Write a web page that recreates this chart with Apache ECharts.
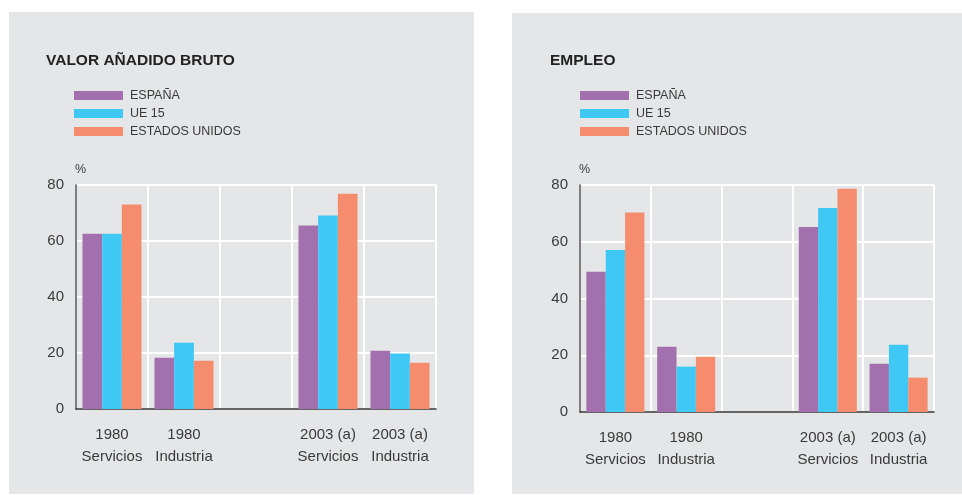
<!DOCTYPE html>
<html>
<head>
<meta charset="utf-8">
<script src="https://cdn.jsdelivr.net/npm/echarts@6/dist/echarts.min.js"></script>
<style>
html,body{margin:0;padding:0;background:#ffffff;}
#chart{width:962px;height:495px;}
</style>
</head>
<body>
<div id="chart"></div>
<script>
const categories = ['1980\nServicios', '1980\nIndustria', '', '2003 (a)\nServicios', '2003 (a)\nIndustria'];
const seriesNames = ['ESPAÑA', 'UE 15', 'ESTADOS UNIDOS'];
const yTicks = [0, 20, 40, 60, 80];

// VALOR AÑADIDO BRUTO
const vabEspana = [62.6, 18.3, null, 65.5, 20.8];
const vabUE15 = [62.6, 23.7, null, 69.1, 19.8];
const vabEEUU = [73.0, 17.2, null, 76.9, 16.5];

// EMPLEO
const empEspana = [49.4, 23.0, null, 65.2, 17.0];
const empUE15 = [57.1, 16.0, null, 71.9, 23.7];
const empEEUU = [70.3, 19.5, null, 78.7, 12.1];

const colors = ['#a270ad', '#40c8f4', '#f58c6e'];
const FONT = 'Liberation Sans';
const textColor = '#3a3a3a';

const chart = echarts.init(document.getElementById('chart'), null, {renderer: 'canvas'});

function xAxisCfg(gi) {
  return {
    type: 'category', gridIndex: gi, data: categories,
    axisLine: {show: true, lineStyle: {color: '#333', width: 1.5}},
    axisTick: {show: false},
    splitLine: {show: true, lineStyle: {color: '#ffffff', width: 2}},
    axisLabel: {color: textColor, fontFamily: FONT, fontSize: 15, lineHeight: 22, margin: 15, interval: 0}
  };
}
function yAxisCfg(gi) {
  return {
    type: 'value', gridIndex: gi, min: yTicks[0], max: yTicks[yTicks.length - 1], interval: 20,
    axisLine: {show: true, lineStyle: {color: '#555', width: 1.5}},
    axisTick: {show: false},
    splitLine: {show: true, lineStyle: {color: '#ffffff', width: 2}},
    axisLabel: {color: textColor, fontFamily: FONT, fontSize: 15, margin: 12}
  };
}
function barSeries(name, data, idx, gi) {
  return {
    name: name, type: 'bar', xAxisIndex: gi, yAxisIndex: gi, data: data,
    barGap: '0%', barCategoryGap: '18%',
    itemStyle: {color: colors[idx]},
    emphasis: {disabled: true},
    silent: true
  };
}
function legendCfg(left) {
  return {
    data: seriesNames, orient: 'vertical', left: left, top: 89, padding: 0,
    icon: 'rect', itemWidth: 49, itemHeight: 9, itemGap: 5,
    selectedMode: false,
    textStyle: {color: textColor, fontFamily: FONT, fontSize: 12.5, lineHeight: 13, padding: [0, 0, 0, 2]}
  };
}

const option = {
  backgroundColor: '#ffffff',
  animation: false,
  graphic: [
    {type: 'rect', shape: {x: 9, y: 12, width: 465, height: 482}, style: {fill: '#e5e6e8'}, z: -10},
    {type: 'rect', shape: {x: 512, y: 13, width: 450, height: 481}, style: {fill: '#e5e6e8'}, z: -10},
    {type: 'text', left: 46, top: 53, style: {text: 'VALOR AÑADIDO BRUTO', font: 'bold 15.5px "Liberation Sans"', fill: '#222'}},
    {type: 'text', left: 550, top: 53, style: {text: 'EMPLEO', font: 'bold 15.5px "Liberation Sans"', fill: '#222'}},
    {type: 'text', left: 75, top: 163, style: {text: '%', font: '12.5px "Liberation Sans"', fill: textColor}},
    {type: 'text', left: 579, top: 163, style: {text: '%', font: '12.5px "Liberation Sans"', fill: textColor}}
  ],
  legend: [legendCfg(74), legendCfg(580)],
  grid: [
    {left: 76, top: 185, width: 360, height: 224},
    {left: 580, top: 185, width: 354, height: 227}
  ],
  xAxis: [xAxisCfg(0), xAxisCfg(1)],
  yAxis: [yAxisCfg(0), yAxisCfg(1)],
  series: [
    barSeries(seriesNames[0], vabEspana, 0, 0),
    barSeries(seriesNames[1], vabUE15, 1, 0),
    barSeries(seriesNames[2], vabEEUU, 2, 0),
    barSeries(seriesNames[0], empEspana, 0, 1),
    barSeries(seriesNames[1], empUE15, 1, 1),
    barSeries(seriesNames[2], empEEUU, 2, 1)
  ]
};
chart.setOption(option);
</script>
</body>
</html>
